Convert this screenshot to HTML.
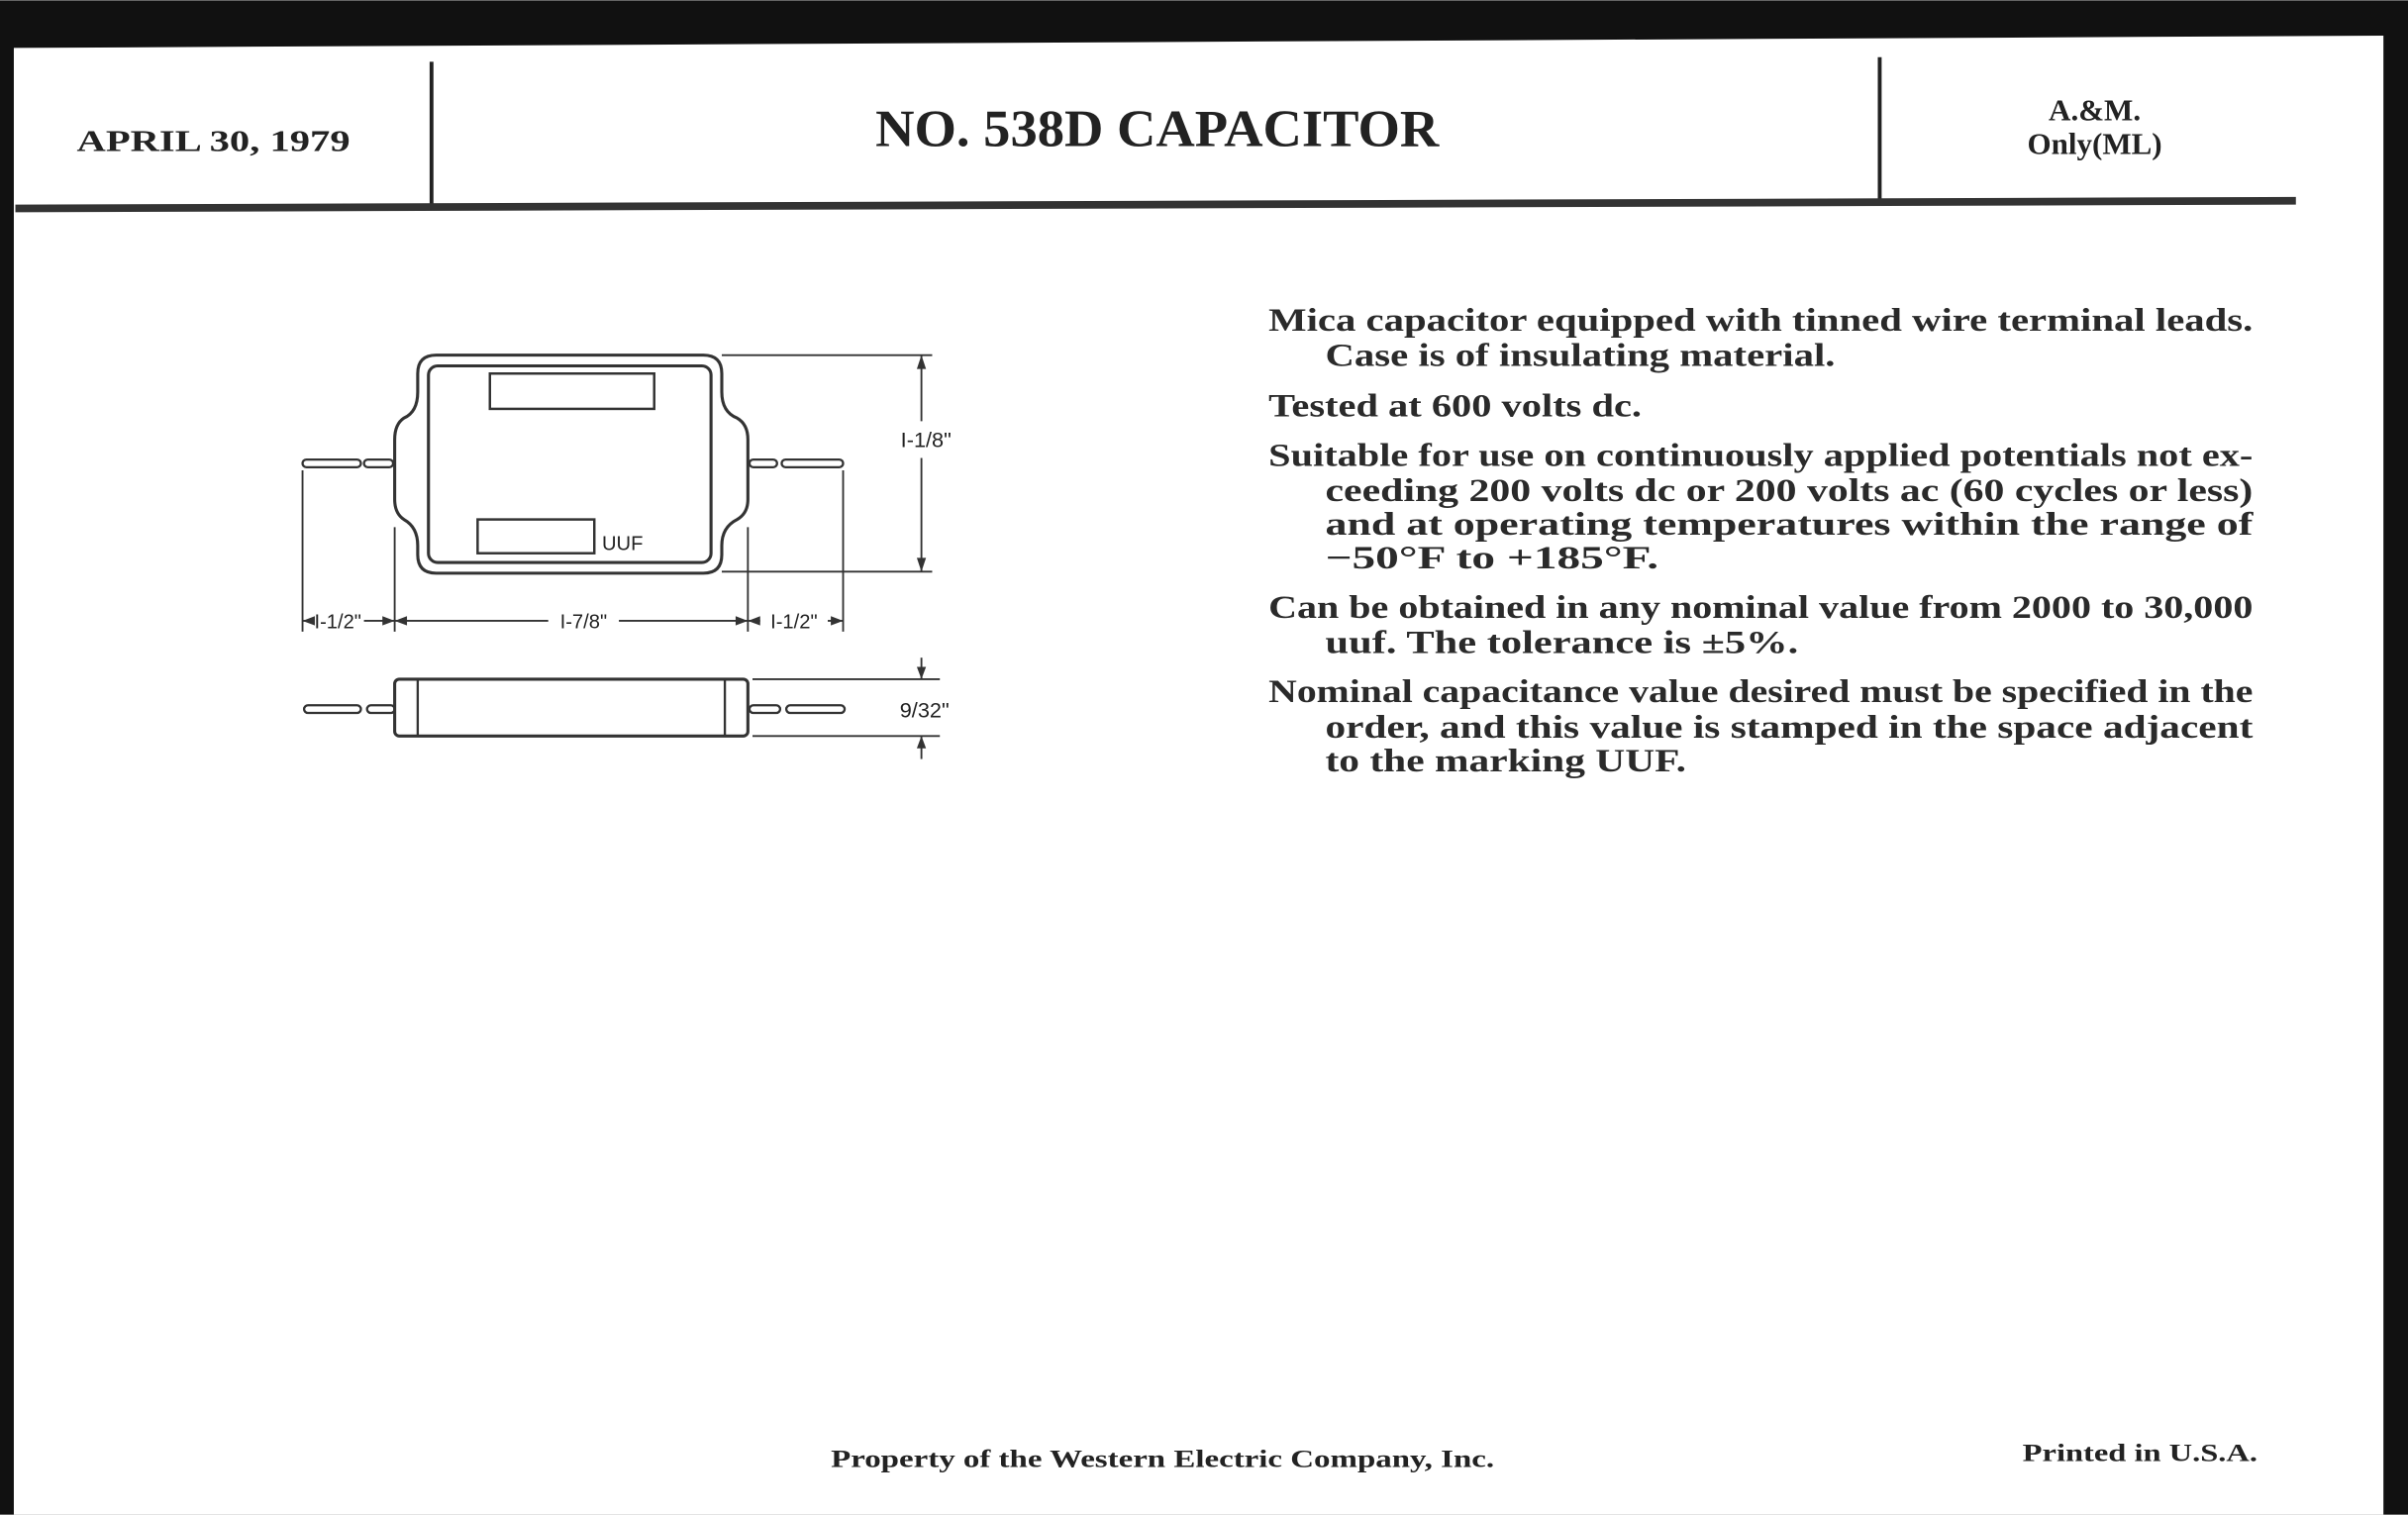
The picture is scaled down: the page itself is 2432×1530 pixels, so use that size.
<!DOCTYPE html>
<html><head><meta charset="utf-8"><style>
html,body{margin:0;padding:0;background:#fff;width:2432px;height:1530px;overflow:hidden}
svg{display:block}
.t{font-family:"Liberation Serif",serif;font-weight:bold;fill:#222}
.b{font-family:"Liberation Serif",serif;font-weight:bold;fill:#2a2a2a;font-size:21px}
.s{font-family:"Liberation Sans",sans-serif;fill:#222;font-size:13px}
</style></head><body>
<svg width="2432" height="1530" viewBox="0 0 1568 986" xmlns="http://www.w3.org/2000/svg">
<rect x="0" y="0" width="1568" height="986" fill="#111"/>
<polygon points="9,31 1552,23 1552,986 9,986" fill="#fff"/>
<line x1="281" y1="40" x2="281" y2="135" stroke="#222" stroke-width="2.5"/>
<line x1="1224" y1="37" x2="1224" y2="132" stroke="#222" stroke-width="2.5"/>
<polygon points="10,133 1495,128 1495,133 10,138" fill="#333"/>
<text class="t" x="50" y="98" font-size="20" textLength="178" lengthAdjust="spacingAndGlyphs">APRIL 30, 1979</text>
<text class="t" x="570" y="95" font-size="34" textLength="367" lengthAdjust="spacingAndGlyphs">NO. 538D CAPACITOR</text>
<text class="t" x="1364" y="78" font-size="20" text-anchor="middle">A.&amp;M.</text>
<text class="t" x="1364" y="100" font-size="20" text-anchor="middle">Only(ML)</text>
<g class="b">
<text x="826" y="215" textLength="641" lengthAdjust="spacingAndGlyphs">Mica capacitor equipped with tinned wire terminal leads.</text>
<text x="863" y="238" textLength="332" lengthAdjust="spacingAndGlyphs">Case is of insulating material.</text>
<text x="826" y="271" textLength="243" lengthAdjust="spacingAndGlyphs">Tested at 600 volts dc.</text>
<text x="826" y="303" textLength="641" lengthAdjust="spacingAndGlyphs">Suitable for use on continuously applied potentials not ex-</text>
<text x="863" y="326" textLength="604" lengthAdjust="spacingAndGlyphs">ceeding 200 volts dc or 200 volts ac (60 cycles or less)</text>
<text x="863" y="348" textLength="604" lengthAdjust="spacingAndGlyphs">and at operating temperatures within the range of</text>
<text x="863" y="370" textLength="217" lengthAdjust="spacingAndGlyphs">−50°F to +185°F.</text>
<text x="826" y="402" textLength="641" lengthAdjust="spacingAndGlyphs">Can be obtained in any nominal value from 2000 to 30,000</text>
<text x="863" y="425" textLength="308" lengthAdjust="spacingAndGlyphs">uuf. The tolerance is ±5%.</text>
<text x="826" y="457" textLength="641" lengthAdjust="spacingAndGlyphs">Nominal capacitance value desired must be specified in the</text>
<text x="863" y="480" textLength="604" lengthAdjust="spacingAndGlyphs">order, and this value is stamped in the space adjacent</text>
<text x="863" y="502" textLength="235" lengthAdjust="spacingAndGlyphs">to the marking UUF.</text>
</g>
<text class="t" x="541" y="955" font-size="16" textLength="432" lengthAdjust="spacingAndGlyphs">Property of the Western Electric Company, Inc.</text>
<text class="t" x="1317" y="951" font-size="16" textLength="153" lengthAdjust="spacingAndGlyphs">Printed in U.S.A.</text>
<g fill="none" stroke="#333" stroke-width="2">
<path d="M284,231 H458 Q470,231 470,243 V255 Q470,268 480,272 Q487,276 487,286 V325 Q487,334 480,338 Q470,343 470,355 V361 Q470,373 458,373 H284 Q272,373 272,361 V355 Q272,343 263,338 Q257,334 257,325 V286 Q257,276 263,272 Q272,268 272,255 V243 Q272,231 284,231 Z"/>
<rect x="279" y="238" width="184" height="128" rx="6"/>
<rect x="319" y="243" width="107" height="23" stroke-width="1.6"/>
<rect x="311" y="338" width="76" height="22" stroke-width="1.6"/>
<rect x="197" y="299" width="38" height="5" rx="2.5" stroke-width="1.5"/>
<rect x="237" y="299" width="19" height="5" rx="2.5" stroke-width="1.5"/>
<rect x="488" y="299" width="18" height="5" rx="2.5" stroke-width="1.5"/>
<rect x="509" y="299" width="40" height="5" rx="2.5" stroke-width="1.5"/>
<g stroke-width="1.2">
<line x1="197" y1="306" x2="197" y2="411"/>
<line x1="257" y1="343" x2="257" y2="411"/>
<line x1="487" y1="343" x2="487" y2="411"/>
<line x1="549" y1="306" x2="549" y2="411"/>
<line x1="197" y1="404" x2="203" y2="404"/><line x1="237" y1="404" x2="257" y2="404"/>
<line x1="257" y1="404" x2="357" y2="404"/><line x1="403" y1="404" x2="487" y2="404"/>
<line x1="487" y1="404" x2="495" y2="404"/><line x1="539" y1="404" x2="549" y2="404"/>
<line x1="470" y1="231" x2="607" y2="231"/>
<line x1="470" y1="372" x2="607" y2="372"/>
<line x1="600" y1="231" x2="600" y2="274"/><line x1="600" y1="298" x2="600" y2="372"/>
<line x1="490" y1="442" x2="612" y2="442"/>
<line x1="490" y1="479" x2="612" y2="479"/>
<line x1="600" y1="428" x2="600" y2="442"/><line x1="600" y1="479" x2="600" y2="494"/>
</g>
<rect x="257" y="442" width="230" height="37" rx="3"/>
<line x1="272" y1="442" x2="272" y2="479" stroke-width="1.5"/>
<line x1="472" y1="442" x2="472" y2="479" stroke-width="1.5"/>
<rect x="198" y="459" width="37" height="5" rx="2.5" stroke-width="1.5"/>
<rect x="239" y="459" width="18" height="5" rx="2.5" stroke-width="1.5"/>
<rect x="488" y="459" width="20" height="5" rx="2.5" stroke-width="1.5"/>
<rect x="512" y="459" width="38" height="5" rx="2.5" stroke-width="1.5"/>
</g>
<g fill="#333">
<polygon points="197,404 205,401 205,407"/><polygon points="257,404 249,401 249,407"/>
<polygon points="257,404 265,401 265,407"/><polygon points="487,404 479,401 479,407"/>
<polygon points="487,404 495,401 495,407"/><polygon points="549,404 541,401 541,407"/>
<polygon points="600,231 597,240 603,240"/><polygon points="600,372 597,363 603,363"/>
<polygon points="600,442 597,434 603,434"/><polygon points="600,479 597,487 603,487"/>
</g>
<g class="s">
<text x="392" y="358">UUF</text>
<text x="220" y="409" text-anchor="middle">I-1/2"</text>
<text x="380" y="409" text-anchor="middle">I-7/8"</text>
<text x="517" y="409" text-anchor="middle">I-1/2"</text>
<text x="603" y="291" text-anchor="middle" font-size="14">I-1/8"</text>
<text x="602" y="467" text-anchor="middle" font-size="14">9/32"</text>
</g>
</svg>
</body></html>
